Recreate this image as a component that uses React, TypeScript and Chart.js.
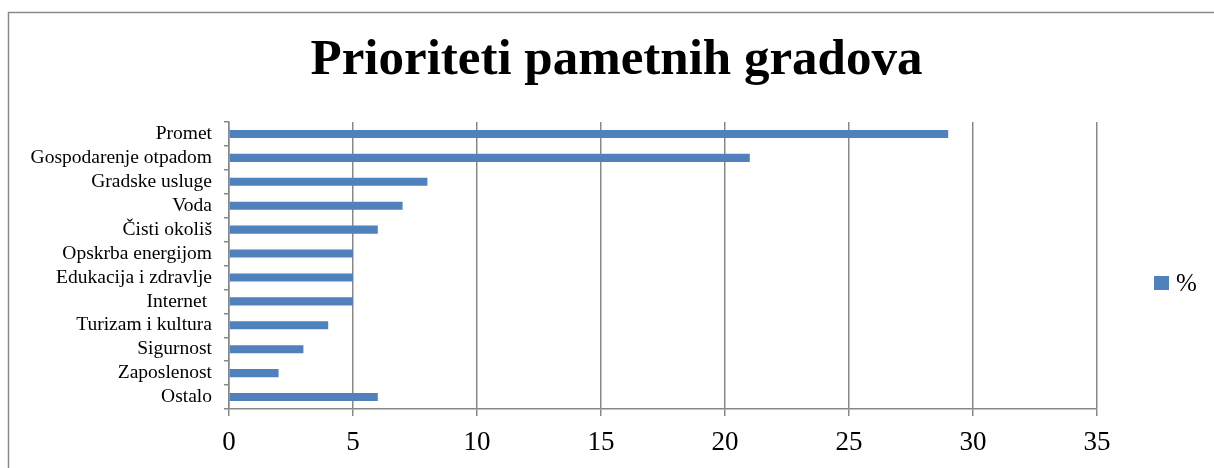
import React, { useEffect, useRef } from 'react';
import { Chart, registerables } from 'chart.js';

Chart.register(...registerables);

const chartTitle = 'Prioriteti pametnih gradova';
const categories = [
  'Promet',
  'Gospodarenje otpadom',
  'Gradske usluge',
  'Voda',
  'Čisti okoliš',
  'Opskrba energijom',
  'Edukacija i zdravlje',
  'Internet ',
  'Turizam i kultura',
  'Sigurnost',
  'Zaposlenost',
  'Ostalo',
];
const values = [29, 21, 8, 7, 6, 5, 5, 5, 4, 3, 2, 6];
const seriesLabel = '%';
const xMin = 0;
const xMax = 35;
const xStep = 5;

const FONT = "'Liberation Serif', 'Times New Roman', serif";
const GRID = '#888888';
const BAR = '#4f81bd';
const TITLE_CENTER_X = 616.5;

export default function App() {
  const ref = useRef<HTMLCanvasElement>(null);

  useEffect(() => {
    const prevMargin = document.body.style.margin;
    document.body.style.margin = '0';
    const canvas = ref.current;
    if (!canvas) return;

    const frame = {
      id: 'frame',
      beforeDraw(chart: any) {
        const c = chart.ctx;
        c.save();
        c.strokeStyle = '#8a8a8a';
        c.lineWidth = 1.5;
        c.beginPath();
        c.moveTo(8.5, chart.height);
        c.lineTo(8.5, 12.5);
        c.lineTo(chart.width, 12.5);
        c.stroke();
        c.restore();
      },
    };

    const titleShift = {
      id: 'titleShift',
      afterLayout(chart: any) {
        const t = chart.titleBlock;
        if (t) {
          t.left = 2 * TITLE_CENTER_X - t.right;
          t.width = t.right - t.left;
        }
      },
    };

    const sideLegend = {
      id: 'sideLegend',
      afterDraw(chart: any) {
        const c = chart.ctx;
        const ds = chart.data.datasets[0];
        const a = chart.chartArea;
        const cy = (a.top + a.bottom) / 2 + 17.5;
        const x = a.right + 57;
        c.save();
        c.fillStyle = ds.backgroundColor;
        c.fillRect(x, cy - 7, 15, 14);
        c.fillStyle = '#000';
        c.font = `25px ${FONT}`;
        c.textBaseline = 'middle';
        c.textAlign = 'left';
        c.fillText(ds.label, x + 22, cy + 1);
        c.restore();
      },
    };

    const chart = new Chart(canvas, {
      type: 'bar',
      data: {
        labels: categories,
        datasets: [
          {
            label: seriesLabel,
            data: values,
            backgroundColor: BAR,
            borderWidth: 0,
            barPercentage: 0.335,
            categoryPercentage: 1,
          },
        ],
      },
      options: {
        indexAxis: 'y',
        responsive: false,
        animation: false,
        devicePixelRatio: 1,
        layout: { padding: { left: 0, right: 117, top: 0, bottom: 0 } },
        plugins: {
          legend: { display: false },
          tooltip: { enabled: false },
          title: {
            display: true,
            text: chartTitle,
            color: '#000',
            font: { family: FONT, size: 51, weight: 'bold', lineHeight: 1.2 },
            padding: { top: 30, bottom: 30.8 },
          },
        },
        scales: {
          x: {
            type: 'linear',
            position: 'bottom',
            min: xMin,
            max: xMax,
            ticks: {
              stepSize: xStep,
              color: '#000',
              font: { family: FONT, size: 27 },
              padding: 11,
            },
            grid: { color: GRID, lineWidth: 1.5, tickLength: 7, drawTicks: true },
            border: { color: GRID, width: 1.5 },
            afterFit(s: any) {
              s.height = 59;
            },
          },
          y: {
            type: 'category',
            offset: true,
            ticks: {
              color: '#000',
              font: { family: FONT, size: 19.5 },
              padding: 12,
              autoSkip: false,
            },
            grid: {
              offset: true,
              drawOnChartArea: false,
              drawTicks: true,
              tickLength: 5,
              color: GRID,
              lineWidth: 1.5,
            },
            border: { color: GRID, width: 1.5 },
            afterFit(s: any) {
              s.width = 229;
            },
          },
        },
      },
      plugins: [frame, titleShift, sideLegend],
    } as any);

    return () => {
      chart.destroy();
      document.body.style.margin = prevMargin;
    };
  }, []);

  return (
    <div style={{ width: 1214, height: 468 }}>
      <canvas ref={ref} width={1214} height={468} style={{ display: 'block' }} />
    </div>
  );
}
